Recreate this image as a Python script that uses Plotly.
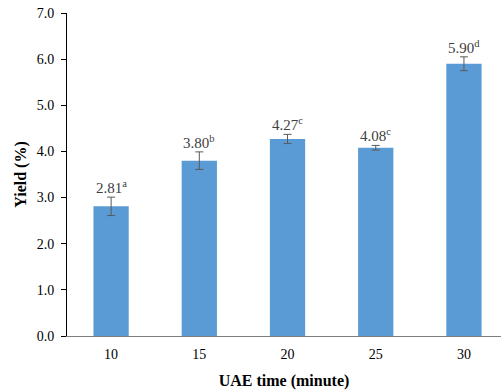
import plotly.graph_objects as go

categories = ["10", "15", "20", "25", "30"]
yields = [2.81, 3.80, 4.27, 4.08, 5.90]
errors = [0.20, 0.19, 0.10, 0.05, 0.15]
letters = ["a", "b", "c", "c", "d"]
y_ticks = [0, 1, 2, 3, 4, 5, 6, 7]
y_ticklabels = ["0.0", "1.0", "2.0", "3.0", "4.0", "5.0", "6.0", "7.0"]

FONT = "Times New Roman, Liberation Serif, serif"

fig = go.Figure()
fig.add_trace(go.Bar(
    x=list(range(len(categories))), y=yields,
    marker=dict(color="#5B9BD5", line=dict(width=0)),
    width=0.4,
    error_y=dict(type="data", array=errors, visible=True,
                 color="#595959", thickness=1, width=4),
))

for i, (v, e, l) in enumerate(zip(yields, errors, letters)):
    fig.add_annotation(x=i, y=v + e, text=f"{v:.2f}<sup>{l}</sup>",
                       showarrow=False, yanchor="bottom", yshift=-1,
                       font=dict(family=FONT, size=15, color="#404040"))

fig.update_layout(
    width=501, height=390,
    margin=dict(l=67, r=0, t=13, b=54),
    paper_bgcolor="white", plot_bgcolor="white",
    showlegend=False,
    font=dict(family=FONT, size=14, color="black"),
)
fig.update_xaxes(
    range=[-0.5, 4.42],
    tickvals=list(range(len(categories))), ticktext=categories,
    showline=True, linecolor="#7f7f7f", linewidth=1,
    ticks="outside", ticklen=5, tickcolor="rgba(0,0,0,0)",
    showgrid=False, zeroline=False,
    tickfont=dict(family=FONT, size=14, color="black"),
    title=dict(text="<b>UAE time (minute)</b>", font=dict(family=FONT, size=16, color="black"), standoff=14),
)
fig.update_yaxes(
    range=[0, 7], tickvals=y_ticks, ticktext=y_ticklabels,
    showline=True, linecolor="black", linewidth=1,
    ticks="outside", ticklen=5, tickcolor="black",
    showgrid=False, zeroline=False,
    ticklabelstandoff=4,
    tickfont=dict(family=FONT, size=14, color="black"),
    title=dict(text="<b>Yield (%)</b>", font=dict(family=FONT, size=16, color="black"), standoff=6),
)

fig.write_html("out.html")
